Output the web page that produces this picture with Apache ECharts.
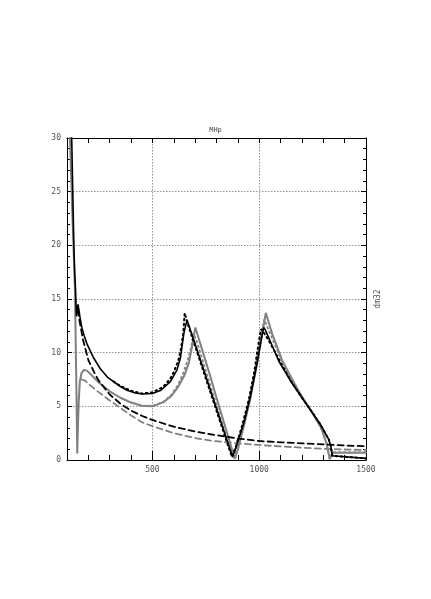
<!DOCTYPE html>
<html>
<head>
<meta charset="utf-8">
<script src="https://cdn.jsdelivr.net/npm/echarts@6/dist/echarts.min.js"></script>
<style>
  html, body { margin: 0; padding: 0; background: #fff; }
  #chart { width: 431px; height: 599px; }
</style>
</head>
<body>
<div id="chart"></div>
<script>
    // solid black
    const blackSolidX = [120, 126, 132, 136, 140, 144, 147, 151, 155, 160, 170, 180, 194, 225, 256, 290, 318, 350, 381, 420, 453, 500, 540, 584, 615, 631, 647, 662, 700, 750, 800, 850, 875, 890, 928, 959, 990, 1015, 1021, 1029, 1092, 1154, 1217, 1287, 1326, 1336, 1342, 1400, 1500];
    const blackSolidY = [32, 26, 20, 17.5, 15.9, 13.4, 13.6, 14.5, 14.1, 13.4, 12.3, 11.6, 10.8, 9.5, 8.5, 7.7, 7.3, 6.85, 6.5, 6.25, 6.15, 6.2, 6.5, 7.3, 8.4, 9.5, 11.8, 13.05, 10.8, 7.8, 4.8, 1.8, 0.3, 1.1, 3.45, 5.9, 9.0, 11.8, 12.35, 12.1, 9.2, 7.15, 5.3, 3.3, 1.9, 1.2, 0.4, 0.3, 0.15];

    // dotted black
    const blackDotX = [318, 350, 400, 450, 500, 550, 584, 600, 620, 631, 644, 651, 665, 700, 750, 800, 850, 872, 890, 920, 950, 975, 995, 1008, 1020, 1040, 1100, 1150, 1200, 1250, 1287, 1326, 1336, 1342, 1400, 1500];
    const blackDotY = [7.3, 6.9, 6.45, 6.2, 6.3, 6.8, 7.6, 8.2, 9.2, 10.1, 11.7, 13.7, 12.7, 10.6, 7.6, 4.6, 1.6, 0.3, 1.2, 3.2, 5.5, 8.0, 10.6, 12.2, 11.9, 11.3, 9.1, 7.3, 5.8, 4.4, 3.3, 1.9, 1.2, 0.4, 0.3, 0.15];

    // solid grey
    const greySolidX = [113, 125, 137, 143, 148, 151, 155, 160, 168, 180, 195, 210, 250, 300, 350, 400, 450, 500, 553, 590, 620, 650, 670, 685, 695, 701, 771, 800, 850, 886, 900, 930, 960, 990, 1015, 1031, 1060, 1107, 1150, 1185, 1248, 1290, 1316, 1330, 1345, 1400, 1500];
    const greySolidY = [30.5, 23, 16, 8, 0.6, 3.0, 5.5, 7.3, 8.1, 8.4, 8.3, 8.0, 7.2, 6.4, 5.8, 5.35, 5.05, 5.0, 5.4, 6.0, 6.8, 7.9, 9.0, 10.5, 11.7, 12.35, 7.8, 5.8, 2.5, 0.1, 1.0, 3.3, 5.9, 9.0, 11.9, 13.7, 11.8, 9.3, 7.7, 6.4, 4.4, 3.0, 1.5, 0.1, 0.68, 0.68, 0.68];

    // dotted grey
    const greyDotX = [350, 400, 450, 500, 550, 590, 620, 645, 665, 680, 693, 710, 750, 800, 850, 880, 892, 920, 950, 980, 1005, 1024, 1040, 1100, 1150, 1200, 1250, 1290, 1316, 1330, 1345, 1500];
    const greyDotY = [5.8, 5.35, 5.05, 5.05, 5.4, 6.1, 7.0, 8.1, 9.3, 10.4, 11.8, 10.9, 8.3, 5.1, 1.9, 0.1, 0.8, 2.9, 5.3, 8.3, 11.3, 13.1, 12.3, 9.5, 7.6, 5.9, 4.4, 3.0, 1.5, 0.1, 0.72, 0.72];

    // dashed black
    const blackDashX = [150, 162, 175, 200, 234, 250, 300, 350, 400, 453, 500, 600, 700, 772, 900, 1000, 1100, 1200, 1300, 1400, 1500];
    const blackDashY = [14.0, 12.6, 11.2, 9.3, 7.9, 7.35, 6.1, 5.25, 4.6, 4.1, 3.73, 3.1, 2.65, 2.4, 2.0, 1.77, 1.65, 1.55, 1.45, 1.35, 1.28];

    // dashed grey
    const greyDashX = [168, 185, 200, 250, 300, 350, 400, 453, 500, 600, 700, 772, 900, 1000, 1100, 1200, 1300, 1400, 1500];
    const greyDashY = [7.5, 7.4, 7.1, 6.3, 5.55, 4.85, 4.15, 3.5, 3.15, 2.5, 2.05, 1.8, 1.55, 1.4, 1.27, 1.15, 1.05, 0.98, 0.93];

    const xLabels = [500, 1000, 1500];
    const yTickLabels = [0, 5, 10, 15, 20, 25, 30];

    const FONT = 'DejaVu Sans Mono';

    function pairs(xs, ys) {
        return xs.map((x, i) => [x, ys[i]]);
    }

    function line(data, color, width, type) {
        return {
            type: 'line',
            data: data,
            showSymbol: false,
            symbol: 'none',
            clip: true,
            xAxisIndex: 0,
            yAxisIndex: 0,
            lineStyle: { color: color, width: width, type: type, cap: 'round' }
        };
    }

    const chart = echarts.init(document.getElementById('chart'), null, { renderer: 'canvas' });

    const gridDash = { color: '#777', width: 0.8, type: [1.5, 1.5] };

    chart.setOption({
        animation: false,
        backgroundColor: '#fff',
        title: {
            text: 'MHp',
            left: 'center',
            top: 122,
            textStyle: { fontFamily: FONT, fontSize: 7, fontWeight: 'normal', color: '#444' }
        },
        grid: { left: 67, right: 65, top: 138, bottom: 139 },
        xAxis: [
            {
                type: 'value', position: 'bottom', min: 100, max: 1500, splitNumber: 3,
                axisLine: { lineStyle: { color: '#000', width: 1 } },
                axisTick: { inside: true, length: 9, lineStyle: { color: '#000' } },
                axisLabel: {
                    fontFamily: FONT, fontSize: 8, color: '#555', margin: 6,
                    formatter: v => xLabels.includes(v) ? String(v) : ''
                },
                splitLine: { show: true, lineStyle: gridDash }
            },
            {
                type: 'value', position: 'bottom', min: 100, max: 1500, interval: 100,
                axisLine: { show: false },
                axisTick: { inside: true, length: 5, lineStyle: { color: '#000' } },
                axisLabel: { show: false },
                splitLine: { show: false }
            },
            {
                type: 'value', position: 'top', min: 100, max: 1500, interval: 100,
                axisLine: { lineStyle: { color: '#000', width: 1 } },
                axisTick: { inside: true, length: 5, lineStyle: { color: '#000' } },
                axisLabel: { show: false },
                splitLine: { show: false }
            }
        ],
        yAxis: [
            {
                type: 'value', position: 'left', min: 0, max: 30, interval: 5,
                axisLine: { lineStyle: { color: '#000', width: 1 } },
                axisTick: { inside: true, length: 5, lineStyle: { color: '#000' } },
                minorTick: { show: true, splitNumber: 5, length: 3, lineStyle: { color: '#000' } },
                axisLabel: {
                    fontFamily: FONT, fontSize: 8, color: '#555', margin: 6,
                    formatter: v => yTickLabels.includes(v) ? String(v) : ''
                },
                splitLine: { show: true, lineStyle: gridDash }
            },
            {
                type: 'value', position: 'right', min: 0, max: 30, interval: 5,
                name: 'dm32', nameLocation: 'middle', nameRotate: 90, nameGap: 8,
                nameTextStyle: { fontFamily: FONT, fontSize: 8, color: '#555' },
                axisLine: { lineStyle: { color: '#000', width: 1 } },
                axisTick: { inside: true, length: 5, lineStyle: { color: '#000' } },
                minorTick: { show: true, splitNumber: 5, length: 3, lineStyle: { color: '#000' } },
                axisLabel: { show: false },
                splitLine: { show: false }
            }
        ],
        series: [
            line(pairs(greyDashX, greyDashY), '#808080', 1.8, [6, 4]),
            line(pairs(greySolidX, greySolidY), '#808080', 2, 'solid'),
            line(pairs(greyDotX, greyDotY), '#8a8a8a', 2, [1.5, 3.5]),
            line(pairs(blackDashX, blackDashY), '#000', 1.8, [6, 4]),
            line(pairs(blackSolidX, blackSolidY), '#000', 1.6, 'solid'),
            line(pairs(blackDotX, blackDotY), '#000', 2, [1.5, 3.5])
        ]
    });

    window.addEventListener('resize', () => chart.resize());
</script>
</body>
</html>
